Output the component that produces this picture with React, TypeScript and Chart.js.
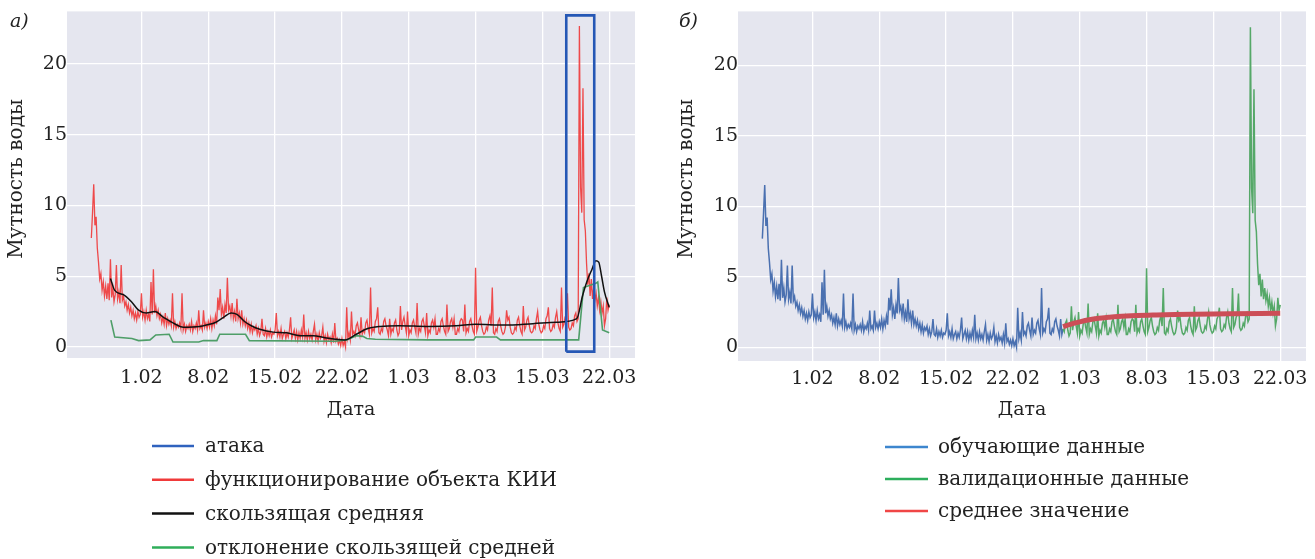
import React, { useEffect, useRef } from "react";
import { Chart, registerables } from "chart.js";

Chart.register(...registerables);

// ---------- DATA (days counted from 1 Feb; value = water turbidity) ----------
const dayStart = -5.25;
const dayStep = 0.125;
const turbidity = [
  7.7, 9.5,
  11.5, 8.6, 9.2, 7.0, 6.0, 4.8, 5.2, 4.0,
  4.6, 3.6, 4.3, 3.4, 4.5, 3.3, 6.2, 3.5,
  4.2, 3.2, 3.7, 5.8, 3.4, 3.9, 3.1, 5.8,
  3.3, 3.6, 2.9, 3.2, 2.6, 3.0, 2.4, 2.8,
  2.2, 2.6, 2.0, 2.4, 1.9, 2.5, 2.1, 2.3,
  3.8, 2.1, 2.5, 1.9, 2.6, 2.0, 2.3, 1.8,
  4.6, 2.3, 5.5, 2.4, 2.9, 2.2, 2.6, 2.0,
  2.3, 1.7, 2.1, 1.6, 2.4, 1.5, 2.0, 1.6,
  1.9, 1.5, 3.8, 1.4, 1.8, 1.3, 1.6, 1.4,
  1.7, 1.3, 3.8, 1.2, 1.6, 1.1, 1.5, 1.3,
  1.6, 1.2, 1.8, 1.1, 1.5, 1.3, 1.7, 1.2,
  2.6, 1.3, 1.5, 1.2, 2.6, 1.4, 1.7, 1.3,
  1.8, 1.4, 2.0, 1.3, 1.9, 1.5, 2.2, 1.6,
  3.5, 2.6, 4.1, 2.3, 2.8, 2.0, 3.0, 2.4,
  4.9, 2.6, 2.9, 2.2, 3.1, 2.0, 2.5, 1.8,
  3.4, 2.0, 2.4, 1.7, 2.6, 1.6, 2.0, 1.5,
  1.9, 1.3, 1.7, 1.1, 1.6, 1.0, 1.4, 1.2,
  1.5, 0.9, 1.3, 0.8, 1.1, 2.0, 0.9, 0.8,
  1.3, 0.7, 1.1, 0.8, 1.2, 0.7, 1.0, 0.9,
  1.2, 2.4, 0.8, 1.1, 0.7, 1.3, 0.6, 0.9,
  1.1, 0.6, 1.0, 0.7, 1.2, 2.1, 0.6, 0.9,
  1.2, 0.6, 1.1, 0.5, 1.0, 0.6, 1.2, 0.7,
  2.3, 0.6, 1.0, 0.5, 1.1, 0.6, 0.9, 0.5,
  1.1, 1.6, 0.5, 0.9, 0.4, 1.0, 0.6, 0.8,
  1.4, 0.4, 0.8, 0.3, 0.9, 0.5, 0.7, 0.3,
  0.9, 0.3, 1.7, 0.4, 0.6, 0.2, 0.5, 0.1,
  0.6, 0.1, 0.4, 0.0, 2.8, 0.6, 1.0, 0.5,
  2.5, 0.9, 1.1, 0.8, 1.5, 1.7, 1.2, 0.8,
  2.1, 0.9, 1.2, 1.0, 1.7, 1.9, 1.3, 0.9,
  4.2, 1.0, 1.3, 1.1, 1.8, 2.0, 2.8, 1.0,
  0.9, 1.3, 1.1, 1.8, 2.0, 1.5, 1.2, 0.8,
  2.0, 0.9, 1.3, 1.1, 1.7, 1.9, 1.2, 0.8,
  1.0, 2.9, 1.2, 1.8, 2.1, 1.5, 1.0, 2.5,
  0.8, 1.2, 1.0, 1.7, 1.9, 1.4, 1.0, 3.1,
  0.9, 1.3, 1.1, 1.8, 2.0, 1.5, 1.0, 2.4,
  0.8, 1.2, 1.0, 1.7, 1.9, 1.4, 2.0, 0.9,
  0.9, 1.3, 1.1, 1.8, 2.0, 1.5, 1.1, 0.9,
  3.0, 1.1, 1.3, 1.8, 2.0, 1.4, 2.0, 0.9,
  0.9, 1.3, 1.1, 1.8, 2.0, 1.9, 1.1, 3.0,
  1.0, 1.3, 1.1, 1.8, 2.0, 1.5, 1.1, 0.9,
  5.6, 1.1, 1.4, 1.9, 2.1, 1.5, 1.1, 0.9,
  1.0, 1.4, 1.2, 1.9, 2.2, 1.5, 4.2, 1.0,
  0.9, 1.3, 1.1, 1.8, 2.0, 1.5, 1.1, 0.9,
  1.0, 1.4, 2.6, 1.9, 2.1, 1.4, 1.0, 0.9,
  1.0, 1.4, 1.2, 1.9, 2.1, 1.5, 1.1, 0.9,
  2.9, 1.2, 1.4, 1.9, 2.1, 1.5, 1.1, 1.0,
  1.1, 1.5, 1.3, 2.0, 2.5, 1.6, 1.2, 1.0,
  1.1, 1.5, 1.3, 2.0, 2.2, 2.8, 1.3, 1.1,
  1.2, 1.6, 1.4, 2.1, 2.5, 1.7, 1.3, 1.1,
  4.2, 1.4, 1.6, 2.1, 2.3, 3.8, 1.4, 1.2,
  1.3, 1.7, 1.5, 2.2, 2.4, 1.8, 2.0, 22.7,
  11.3, 9.5, 18.3, 9.0, 8.2, 5.9, 4.4, 5.2,
  3.6, 4.8, 3.4, 4.2, 3.3, 3.8, 2.9, 3.5,
  2.6, 3.2, 2.4, 2.9, 1.5, 2.0, 3.5, 2.6,
  3.0,
];
const splitDay = 26.25; // training / validation boundary

const movingAvgDays = [-3.25, -2.8, -1.9, -1.05, -0.3, 0.5, 1.4, 2.3, 3.3, 4.4, 6.1, 6.8, 7.8, 8.6, 9.4, 10, 10.8, 11.5, 12.4, 13.8, 15.2, 16.6, 18, 19.2, 20.3, 21.3, 22.5, 23.7, 25, 27, 30, 33, 35, 38, 41, 43.5, 45.6, 46.2, 46.7, 47.2, 47.6, 47.9, 48.2, 48.5, 49];
const movingAvgValues = [4.85, 4.0, 3.7, 3.2, 2.6, 2.4, 2.5, 2.1, 1.7, 1.4, 1.45, 1.55, 1.75, 2.1, 2.4, 2.3, 1.8, 1.5, 1.25, 1.05, 1.0, 0.8, 0.8, 0.65, 0.55, 0.5, 0.9, 1.3, 1.45, 1.5, 1.45, 1.5, 1.6, 1.55, 1.65, 1.75, 2.0, 3.6, 4.7, 5.5, 6.1, 6.0, 5.0, 3.9, 2.8];

const deviationDays = [-3.2, -2.8, -1.0, -0.3, 0.9, 1.5, 2.9, 3.3, 6.0, 6.5, 7.9, 8.2, 10.9, 11.3, 20.3, 21.5, 22.5, 23.2, 23.6, 24.5, 30, 34.8, 35.0, 37.2, 37.6, 45.8, 46.3, 47.6, 47.8, 48.3, 49];
const deviationValues = [1.9, 0.7, 0.6, 0.45, 0.5, 0.85, 0.9, 0.35, 0.35, 0.45, 0.45, 0.9, 0.9, 0.45, 0.4, 0.5, 0.8, 0.75, 0.6, 0.55, 0.5, 0.5, 0.7, 0.7, 0.5, 0.5, 4.2, 4.5, 4.6, 1.2, 1.0];

const attackDays = [44.5, 47.43];
const attackBounds = [-0.33, 23.45];

const meanDays = [26.25, 27, 28, 29, 30, 31, 32, 34, 36, 38, 40, 44, 49];
const meanValues = [1.45, 1.62, 1.8, 1.95, 2.05, 2.12, 2.18, 2.25, 2.29, 2.32, 2.34, 2.37, 2.4];

const xTickDays = [0, 7, 14, 21, 28, 35, 42, 49];
const xTickLabels = ["1.02", "8.02", "15.02", "22.02", "1.03", "8.03", "15.03", "22.03"];
const yTicks = [0, 5, 10, 15, 20];

const yTitle = "Мутность воды";
const xTitle = "Дата";
const leftLabels = ["атака", "функционирование объекта КИИ", "скользящая средняя", "отклонение скользящей средней"];
const rightLabels = ["обучающие данные", "валидационные данные", "среднее значение"];

// ---------- STYLE ----------
const FONT = '"DejaVu Serif", "Liberation Serif", serif';
const TEXT = "#222222";
const BG = "#E5E6EF";

const series = turbidity.map((v, i) => ({ x: dayStart + i * dayStep, y: v }));
const pairs = (xs: number[], ys: number[]) => xs.map((x, i) => ({ x, y: ys[i] }));
const splitIndex = Math.round((splitDay - dayStart) / dayStep);

function decorPlugin(cfg: any) {
  return {
    id: "panelDecor",
    beforeDraw(chart: any) {
      const { ctx, chartArea: a } = chart;
      ctx.save();
      ctx.fillStyle = BG;
      ctx.fillRect(a.left, a.top, a.right - a.left, a.bottom - a.top);
      ctx.restore();
    },
    afterDraw(chart: any) {
      const { ctx } = chart;
      ctx.save();
      ctx.fillStyle = TEXT;
      ctx.textBaseline = "middle";
      // panel letter
      ctx.font = `italic 19px ${FONT}`;
      ctx.textAlign = "left";
      ctx.fillText(cfg.letter, cfg.letterX, cfg.letterY);
      // y-axis title
      ctx.save();
      ctx.translate(cfg.yTitleX, cfg.yTitleY);
      ctx.rotate(-Math.PI / 2);
      ctx.font = `20px ${FONT}`;
      ctx.textAlign = "center";
      ctx.fillText(yTitle, 0, 0);
      ctx.restore();
      // legend
      ctx.font = `20px ${FONT}`;
      ctx.textAlign = "left";
      cfg.items.forEach((it: any, i: number) => {
        const y = cfg.legendY + i * cfg.legendDy;
        ctx.strokeStyle = it.color;
        ctx.lineWidth = 2.5;
        ctx.beginPath();
        ctx.moveTo(cfg.lineX0, y);
        ctx.lineTo(cfg.lineX1, y);
        ctx.stroke();
        ctx.fillStyle = TEXT;
        ctx.fillText(it.label, cfg.textX, y + 1);
      });
      ctx.restore();
    },
  };
}

function baseOptions(g: any) {
  return {
    responsive: false,
    animation: false,
    events: [],
    layout: { padding: g.padding },
    plugins: { legend: { display: false }, tooltip: { enabled: false } },
    elements: { point: { radius: 0 }, line: { tension: 0 } },
    scales: {
      x: {
        type: "linear",
        min: -7.8,
        max: 51.7,
        afterBuildTicks: (s: any) => { s.ticks = xTickDays.map((v) => ({ value: v })); },
        afterFit: (s: any) => { s.height = g.xHeight; },
        ticks: {
          callback: (v: number) => xTickLabels[xTickDays.indexOf(v)] ?? "",
          font: { family: FONT, size: 19 },
          color: TEXT,
          padding: g.xTickPad,
          maxRotation: 0,
          autoSkip: false,
        },
        grid: { color: "#FFFFFF", lineWidth: 1.3, drawTicks: false },
        border: { display: false },
        title: { display: true, text: xTitle, font: { family: FONT, size: 19 }, color: TEXT, padding: { top: 0, bottom: g.xTitlePad } },
      },
      y: {
        type: "linear",
        min: g.yMin,
        max: g.yMax,
        afterBuildTicks: (s: any) => { s.ticks = yTicks.map((v) => ({ value: v })); },
        afterFit: (s: any) => { s.width = g.yWidth; },
        ticks: { font: { family: FONT, size: 19 }, color: TEXT, padding: 0 },
        grid: { color: "#FFFFFF", lineWidth: 1.3, drawTicks: false },
        border: { display: false },
        title: { display: false },
      },
    },
  };
}

function leftConfig(): any {
  const g = { padding: { left: 0, top: 10, right: 25, bottom: 131 }, xHeight: 70, yWidth: 67, xTickPad: 8.6, xTitlePad: 6.6, yMin: -0.78, yMax: 23.73 };
  const rect = pairs(
    [attackDays[0], attackDays[0], attackDays[1], attackDays[1], attackDays[0]],
    [attackBounds[0], attackBounds[1], attackBounds[1], attackBounds[0], attackBounds[0]]
  );
  return {
    type: "line",
    data: {
      datasets: [
        { label: leftLabels[0], data: rect, borderColor: "#2557B5", borderWidth: 2.6, order: 0, borderJoinStyle: "miter" },
        { label: leftLabels[1], data: series, borderColor: "rgba(240,45,45,0.85)", borderWidth: 1.3, order: 3 },
        { label: leftLabels[2], data: pairs(movingAvgDays, movingAvgValues), borderColor: "#111111", borderWidth: 1.5, order: 1, cubicInterpolationMode: "monotone" },
        { label: leftLabels[3], data: pairs(deviationDays, deviationValues), borderColor: "#4E9E68", borderWidth: 1.6, order: 2 },
      ],
    },
    options: baseOptions(g),
    plugins: [
      decorPlugin({
        letter: "а)", letterX: 10, letterY: 22, yTitleX: 17, yTitleY: 179,
        legendY: 446, legendDy: 33.8, lineX0: 152, lineX1: 194, textX: 205,
        items: [
          { label: leftLabels[0], color: "#2F62BE" },
          { label: leftLabels[1], color: "#F03A3A" },
          { label: leftLabels[2], color: "#111111" },
          { label: leftLabels[3], color: "#2FAE5A" },
        ],
      }),
    ],
  };
}

function rightConfig(): any {
  const g = { padding: { left: 0, top: 7, right: 9, bottom: 128 }, xHeight: 70, yWidth: 78, xTickPad: 6.6, xTitlePad: 9.6, yMin: -0.98, yMax: 23.82 };
  return {
    type: "line",
    data: {
      datasets: [
        { label: rightLabels[0], data: series.slice(0, splitIndex + 1), borderColor: "#4A70B0", borderWidth: 1.5, order: 2 },
        { label: rightLabels[1], data: series.slice(splitIndex), borderColor: "#55A868", borderWidth: 1.5, order: 1 },
        { label: rightLabels[2], data: pairs(meanDays, meanValues), borderColor: "#CC4E57", borderWidth: 5, order: 0, cubicInterpolationMode: "monotone" },
      ],
    },
    options: baseOptions(g),
    plugins: [
      decorPlugin({
        letter: "б)", letterX: 19, letterY: 22, yTitleX: 27, yTitleY: 179,
        legendY: 447, legendDy: 32, lineX0: 225, lineX1: 268, textX: 278,
        items: [
          { label: rightLabels[0], color: "#3D86CE" },
          { label: rightLabels[1], color: "#2DAE5C" },
          { label: rightLabels[2], color: "#F04646" },
        ],
      }),
    ],
  };
}

function Panel({ make, left, width }: { make: () => any; left: number; width: number }) {
  const ref = useRef<HTMLCanvasElement>(null);
  useEffect(() => {
    const chart = new Chart(ref.current as HTMLCanvasElement, make());
    return () => chart.destroy();
  }, []);
  return (
    <div style={{ position: "absolute", left, top: 0, width, height: 559 }}>
      <canvas ref={ref} width={width} height={559} style={{ width, height: 559, display: "block" }} />
    </div>
  );
}

export default function App() {
  return (
    <div style={{ position: "fixed", left: 0, top: 0, width: 1315, height: 559, background: "#FFFFFF", overflow: "hidden" }}>
      <Panel make={leftConfig} left={0} width={660} />
      <Panel make={rightConfig} left={660} width={655} />
    </div>
  );
}
